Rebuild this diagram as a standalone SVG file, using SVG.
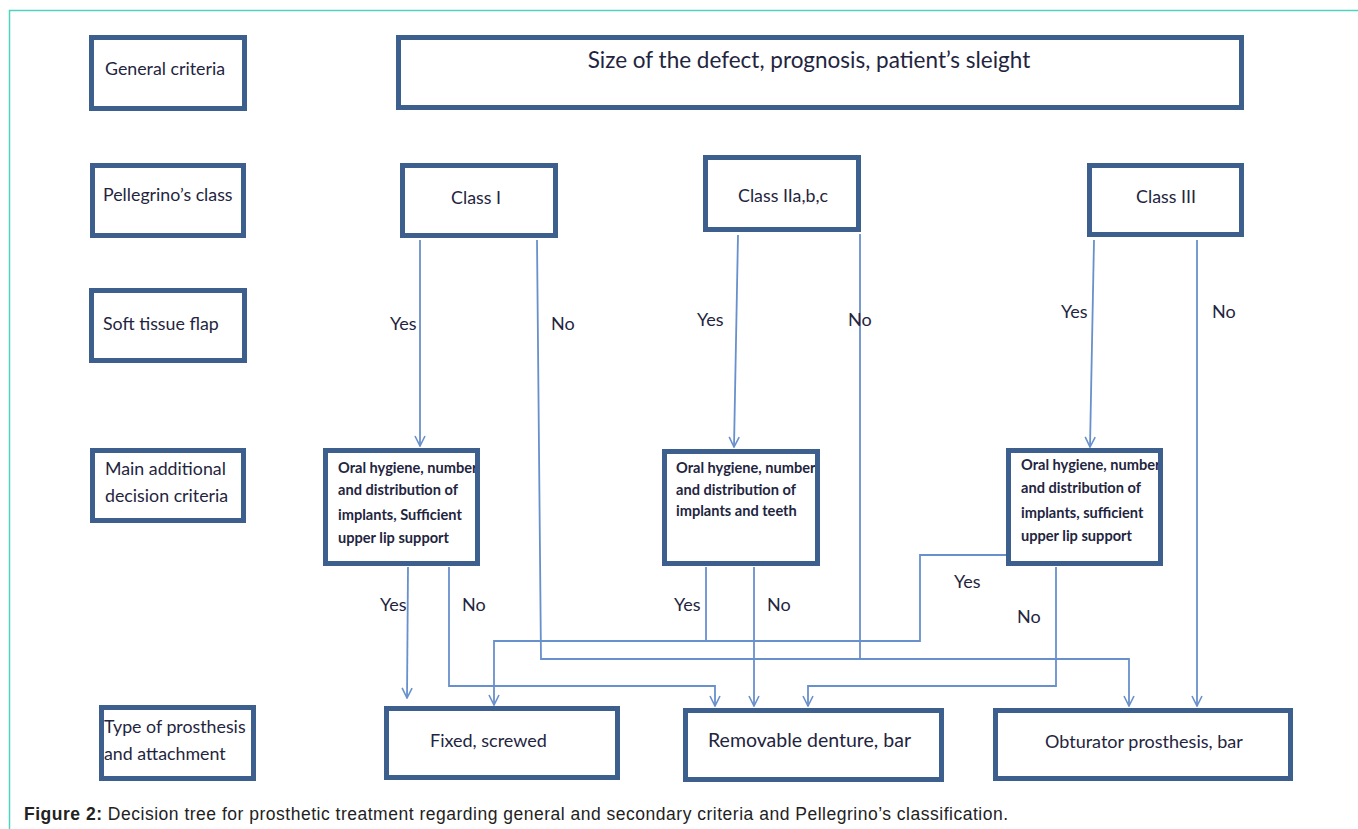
<svg xmlns="http://www.w3.org/2000/svg" width="1358" height="829" viewBox="0 0 1358 829">
<style>
.box{fill:#ffffff;stroke:#3c5f8e;stroke-width:5}
.bg{fill:#ffffff;stroke:none}
.frame{fill:none;stroke:#3c5f8e;stroke-width:5}
.lbl{font-family:Lato,"Open Sans","Liberation Sans",sans-serif;font-size:17.8px;fill:#1f2540}
.big{font-size:22.5px}
.sm{font-family:Lato,"Open Sans","Liberation Sans",sans-serif;font-size:14.6px;font-weight:bold;fill:#1f2540}
.yn{font-family:Lato,"Open Sans","Liberation Sans",sans-serif;font-size:18px;fill:#1f2540}
.con{fill:none;stroke:#6890cc;stroke-width:1.8}
.cap{font-family:"Liberation Sans",Arial,sans-serif;font-size:17.5px;fill:#222}
</style>
<defs>
<marker id="arr" viewBox="0 0 12 12" refX="11" refY="6" markerWidth="12" markerHeight="12" markerUnits="userSpaceOnUse" orient="auto">
<path d="M1,1 L11,6 L1,11" fill="none" stroke="#6890cc" stroke-width="1.6"/>
</marker>
</defs>
<rect x="0" y="0" width="1358" height="829" fill="#ffffff"/>
<path d="M9.5,829 L9.5,10.5 L1358,10.5" fill="none" stroke="#4fd3bf" stroke-width="1.5"/>

<g id="connectors">
<path class="con" d="M420,240 L420,446" marker-end="url(#arr)"/>
<path class="con" d="M537,240 L541,659 L1129,659 L1129,706" marker-end="url(#arr)"/>
<path class="con" d="M860,234 L860,659"/>
<path class="con" d="M738,235 L734,447" marker-end="url(#arr)"/>
<path class="con" d="M1094,240 L1090,447" marker-end="url(#arr)"/>
<path class="con" d="M1197,240 L1197,706" marker-end="url(#arr)"/>
<path class="con" d="M408,567 L407,698" marker-end="url(#arr)"/>
<path class="con" d="M449,567 L449,686 L715,686 L715,706" marker-end="url(#arr)"/>
<path class="con" d="M706,567 L706,641"/>
<path class="con" d="M1007,555 L920,555 L920,641 L494,641 L494,705" marker-end="url(#arr)"/>
<path class="con" d="M754,567 L754,706" marker-end="url(#arr)"/>
<path class="con" d="M1056,567 L1056,686 L808,686 L808,706" marker-end="url(#arr)"/>
</g>

<g id="label-general">
<rect class="box" x="91.5" y="37.5" width="153" height="71"/>
<text class="lbl" x="105" y="75">General criteria</text>
</g>
<g id="general">
<rect class="box" x="398.5" y="37.5" width="843" height="70"/>
<text class="lbl big" x="809" y="68" text-anchor="middle">Size of the defect, prognosis, patient’s sleight</text>
</g>

<g id="label-pellegrino">
<rect class="box" x="92.5" y="165.5" width="151" height="70"/>
<text class="lbl" x="103" y="201">Pellegrino’s class</text>
</g>
<g id="class1">
<rect class="box" x="402.5" y="165.5" width="153" height="70"/>
<text class="lbl" x="476" y="204" text-anchor="middle">Class I</text>
</g>
<g id="class2">
<rect class="box" x="705.5" y="157.5" width="153" height="72"/>
<text class="lbl" x="783" y="202" text-anchor="middle">Class IIa,b,c</text>
</g>
<g id="class3">
<rect class="box" x="1089.5" y="165.5" width="152" height="69"/>
<text class="lbl" x="1166" y="203" text-anchor="middle">Class III</text>
</g>

<g id="label-soft">
<rect class="box" x="91.5" y="290.5" width="153" height="70"/>
<text class="lbl" x="103" y="330">Soft tissue flap</text>
</g>

<g id="label-main">
<rect class="box" x="92.5" y="450.5" width="151" height="70"/>
<text class="lbl" x="105" y="475">Main additional</text>
<text class="lbl" x="105" y="502">decision criteria</text>
</g>
<g id="oral1">
<rect class="bg" x="325.5" y="450.5" width="152" height="113"/>
<text class="sm" x="338" y="473">Oral hygiene, number</text>
<text class="sm" x="338" y="495">and distribution of</text>
<text class="sm" x="338" y="520">implants, Sufficient</text>
<text class="sm" x="338" y="543">upper lip support</text>
<rect class="frame" x="325.5" y="450.5" width="152" height="113"/>
</g>
<g id="oral2">
<rect class="bg" x="664.5" y="451.5" width="153" height="112"/>
<text class="sm" x="676" y="473">Oral hygiene, number</text>
<text class="sm" x="676" y="495">and distribution of</text>
<text class="sm" x="676" y="516">implants and teeth</text>
<rect class="frame" x="664.5" y="451.5" width="153" height="112"/>
</g>
<g id="oral3">
<rect class="bg" x="1008.5" y="450.5" width="152" height="113"/>
<text class="sm" x="1021" y="470">Oral hygiene, number</text>
<text class="sm" x="1021" y="493">and distribution of</text>
<text class="sm" x="1021" y="518">implants, sufficient</text>
<text class="sm" x="1021" y="541">upper lip support</text>
<rect class="frame" x="1008.5" y="450.5" width="152" height="113"/>
</g>

<g id="label-type">
<rect class="box" x="101.5" y="707.5" width="152" height="71"/>
<text class="lbl" x="104" y="733">Type of prosthesis</text>
<text class="lbl" x="104" y="760">and attachment</text>
</g>
<g id="fixed">
<rect class="box" x="386.5" y="708.5" width="231" height="69"/>
<text class="lbl" x="430" y="747" style="font-size:18px">Fixed, screwed</text>
</g>
<g id="removable">
<rect class="box" x="685.5" y="710.5" width="256" height="69"/>
<text class="lbl" x="708" y="747" style="font-size:19.5px">Removable denture, bar</text>
</g>
<g id="obturator">
<rect class="box" x="995.5" y="710.5" width="295" height="68"/>
<text class="lbl" x="1045" y="748" style="font-size:18px">Obturator prosthesis, bar</text>
</g>

<g id="yesno">
<text class="yn" x="390" y="330">Yes</text>
<text class="yn" x="551" y="330">No</text>
<text class="yn" x="697" y="326">Yes</text>
<text class="yn" x="848" y="326">No</text>
<text class="yn" x="1061" y="318">Yes</text>
<text class="yn" x="1212" y="318">No</text>
<text class="yn" x="380" y="611">Yes</text>
<text class="yn" x="462" y="611">No</text>
<text class="yn" x="674" y="611">Yes</text>
<text class="yn" x="767" y="611">No</text>
<text class="yn" x="954" y="588">Yes</text>
<text class="yn" x="1017" y="623">No</text>
</g>

<text class="cap" x="24" y="820" textLength="984" lengthAdjust="spacing"><tspan font-weight="bold">Figure 2:</tspan> Decision tree for prosthetic treatment regarding general and secondary criteria and Pellegrino’s classification.</text>
</svg>
